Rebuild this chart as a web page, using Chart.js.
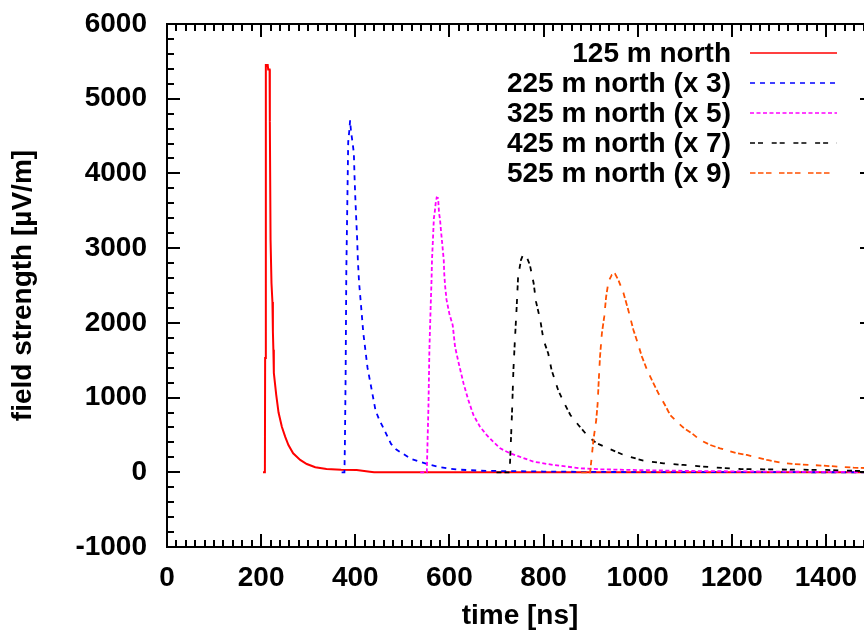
<!DOCTYPE html>
<html>
<head>
<meta charset="utf-8">
<script src="https://cdn.jsdelivr.net/npm/chart.js@4/dist/chart.umd.min.js"></script>
<style>
  html, body { margin: 0; padding: 0; overflow: hidden; background: #fff; }
  canvas { display: block; }
</style>
</head>
<body>
<canvas id="fieldChart" width="880" height="636"></canvas>
<script>
// values: time [ns] / field strength [uV/m]
const t125 = [204, 208, 208.5, 210, 214, 215, 218, 218.5, 220, 222, 224, 225, 226, 227, 232, 237, 244, 251, 258, 268, 283, 297, 315, 339, 370, 403, 431, 440, 1500];
const v125 = [0, 0, 1530, 5450, 5450, 5390, 5390, 4690, 3120, 2530, 2280, 1880, 1640, 1330, 1040, 800, 610, 477, 365, 254, 165, 111, 67, 44, 35, 31, 8, 0, 0];

const t225 = [371, 377, 378, 379.5, 381, 383, 385, 387.5, 389, 391, 394.5, 397, 398.5, 400, 402, 404, 405.5, 408, 410, 414, 417, 426, 435, 443, 451, 460, 469, 476, 488, 502, 518, 538, 559, 580, 601, 622, 665, 708, 800, 900, 1000, 1500];
const v225 = [0, 0, 390, 1280, 2700, 3550, 4420, 4580, 4710, 4560, 4400, 4270, 3950, 3690, 3400, 3130, 2840, 2550, 2400, 2100, 1870, 1400, 1100, 830, 700, 590, 470, 380, 300, 245, 180, 140, 100, 70, 48, 35, 21, 17, 10, 5, 3, 0];

const t325 = [538, 552, 554, 555.5, 557.5, 559, 560.5, 562, 563, 565, 567, 569, 571, 573, 576, 578, 580, 582, 584, 586, 588, 589, 591, 594, 600, 607, 612, 619, 630, 640, 651, 665, 679, 693, 708, 729, 779, 821, 878, 920, 991, 1118, 1300, 1500];
const v325 = [0, 0, 520, 880, 1640, 1970, 2280, 2560, 2840, 3110, 3400, 3490, 3610, 3676, 3668, 3470, 3390, 3240, 3110, 2976, 2840, 2664, 2485, 2307, 2120, 1970, 1680, 1480, 1190, 970, 767, 610, 500, 410, 320, 254, 142, 98, 54, 40, 31, 17, 8, 3];

const t425 = [700, 728, 733, 736, 739, 743, 746, 752, 757, 764, 771, 779, 784, 793, 800, 810, 817, 831, 846, 857, 874, 895, 913, 934, 970, 1012, 1055, 1097, 1168, 1218, 1267, 1402, 1473, 1500];
const v425 = [0, 0, 790, 1370, 1750, 2220, 2620, 2840, 2920, 2886, 2775, 2530, 2284, 2040, 1770, 1590, 1370, 1100, 900, 767, 633, 477, 388, 330, 232, 155, 120, 98, 62, 44, 40, 31, 17, 15];

const t525 = [880, 899, 906, 912, 915, 917, 920, 924, 929, 933, 938, 945, 952, 959, 970, 980, 991, 998, 1009, 1020, 1030, 1044, 1058, 1069, 1083, 1097, 1115, 1133, 1154, 1175, 1211, 1232, 1275, 1303, 1331, 1367, 1395, 1459, 1500];
const v525 = [0, 0, 432, 700, 924, 1190, 1548, 1861, 2083, 2351, 2552, 2641, 2655, 2574, 2396, 2173, 1905, 1771, 1548, 1370, 1236, 1058, 901, 767, 678, 598, 522, 432, 366, 321, 254, 232, 165, 129, 111, 98, 89, 62, 55];

const labels = ['125 m north', '225 m north (x 3)', '325 m north (x 5)', '425 m north (x 7)', '525 m north (x 9)'];
const colors = ['#ff0000', '#0000ff', '#ff00ff', '#000000', '#ff5000'];
const dashes = [[], [5, 5], [4, 2.5], [5, 3, 5, 8.7], [5.5, 2.5, 5.5, 2.5, 5.5, 7.5]];
const widths = [2, 1.8, 1.8, 1.8, 1.8];

const xTicks = [0, 200, 400, 600, 800, 1000, 1200, 1400];
const yTicks = [-1000, 0, 1000, 2000, 3000, 4000, 5000, 6000];

const FONT = { family: '"Liberation Sans", Arial, sans-serif', size: 28, weight: 'bold' };

function pts(t, v) {
    return t.map((x, i) => ({ x: x, y: v[i] }));
}
const series = [pts(t125, v125), pts(t225, v225), pts(t325, v325), pts(t425, v425), pts(t525, v525)];

// gnuplot style frame: box, inward ticks on all four sides, key at top right
const framePlugin = {
    id: 'frame',
    afterDatasetsDraw(chart) {
        const { ctx, chartArea: a, scales } = chart;
        const x = scales.x, y = scales.y;
        ctx.save();
        ctx.strokeStyle = '#000';
        ctx.lineWidth = 2;
        ctx.setLineDash([]);
        ctx.strokeRect(a.left, a.top, a.right - a.left, a.bottom - a.top);
        ctx.beginPath();
        for (let v = 0; v <= 1500; v += 20) {
            const px = Math.round(x.getPixelForValue(v));
            const len = v % 200 === 0 ? 13 : 7;
            ctx.moveTo(px, a.bottom); ctx.lineTo(px, a.bottom - len);
            ctx.moveTo(px, a.top); ctx.lineTo(px, a.top + len);
        }
        for (let v = -1000; v <= 6000; v += 200) {
            const py = Math.round(y.getPixelForValue(v));
            const len = v % 1000 === 0 ? 13 : 7;
            ctx.moveTo(a.left, py); ctx.lineTo(a.left + len, py);
            ctx.moveTo(a.right, py); ctx.lineTo(a.right - len, py);
        }
        ctx.stroke();

        // key
        ctx.font = 'bold 28px "Liberation Sans", Arial, sans-serif';
        ctx.textAlign = 'right';
        ctx.textBaseline = 'middle';
        chart.data.datasets.forEach((ds, i) => {
            const ly = 53 + i * 30;
            ctx.fillStyle = '#000';
            ctx.fillText(ds.label, 731, ly + 1);
            ctx.strokeStyle = ds.borderColor;
            ctx.lineWidth = 1.5;
            ctx.setLineDash(ds.borderDash);
            ctx.beginPath();
            ctx.moveTo(750, ly);
            ctx.lineTo(837, ly);
            ctx.stroke();
        });
        ctx.restore();
    }
};

function noPad(s) {
    s.paddingTop = 0; s.paddingBottom = 0; s.paddingLeft = 0; s.paddingRight = 0;
}

Chart.defaults.font = FONT;
Chart.defaults.color = '#000';

new Chart(document.getElementById('fieldChart'), {
    type: 'line',
    data: {
        datasets: series.map((d, i) => ({
            label: labels[i],
            data: d,
            borderColor: colors[i],
            borderWidth: widths[i],
            borderDash: dashes[i],
            pointRadius: 0,
            tension: 0,
            fill: false,
            order: 5 - i
        }))
    },
    options: {
        responsive: false,
        animation: false,
        events: [],
        layout: { padding: { top: 24, right: 7, left: 0, bottom: 0 } },
        plugins: {
            legend: { display: false },
            tooltip: { enabled: false }
        },
        scales: {
            x: {
                type: 'linear',
                min: 0,
                max: 1500,
                grid: { display: false, drawTicks: false },
                border: { display: false },
                afterBuildTicks: s => { s.ticks = xTicks.map(v => ({ value: v })); },
                afterFit: s => { s.height = 89; noPad(s); },
                ticks: { padding: 14, maxRotation: 0, autoSkip: false, callback: v => String(v) },
                title: { display: true, text: 'time [ns]', padding: { top: 0, bottom: 3 } }
            },
            y: {
                min: -1000,
                max: 6000,
                grid: { display: false, drawTicks: false },
                border: { display: false },
                afterBuildTicks: s => { s.ticks = yTicks.map(v => ({ value: v })); },
                afterFit: s => { s.width = 167; noPad(s); },
                ticks: { padding: 20, autoSkip: false, callback: v => String(v) },
                title: { display: true, text: 'field strength [µV/m]', padding: { top: 6, bottom: 0 } }
            }
        }
    },
    plugins: [framePlugin]
});
</script>
</body>
</html>
